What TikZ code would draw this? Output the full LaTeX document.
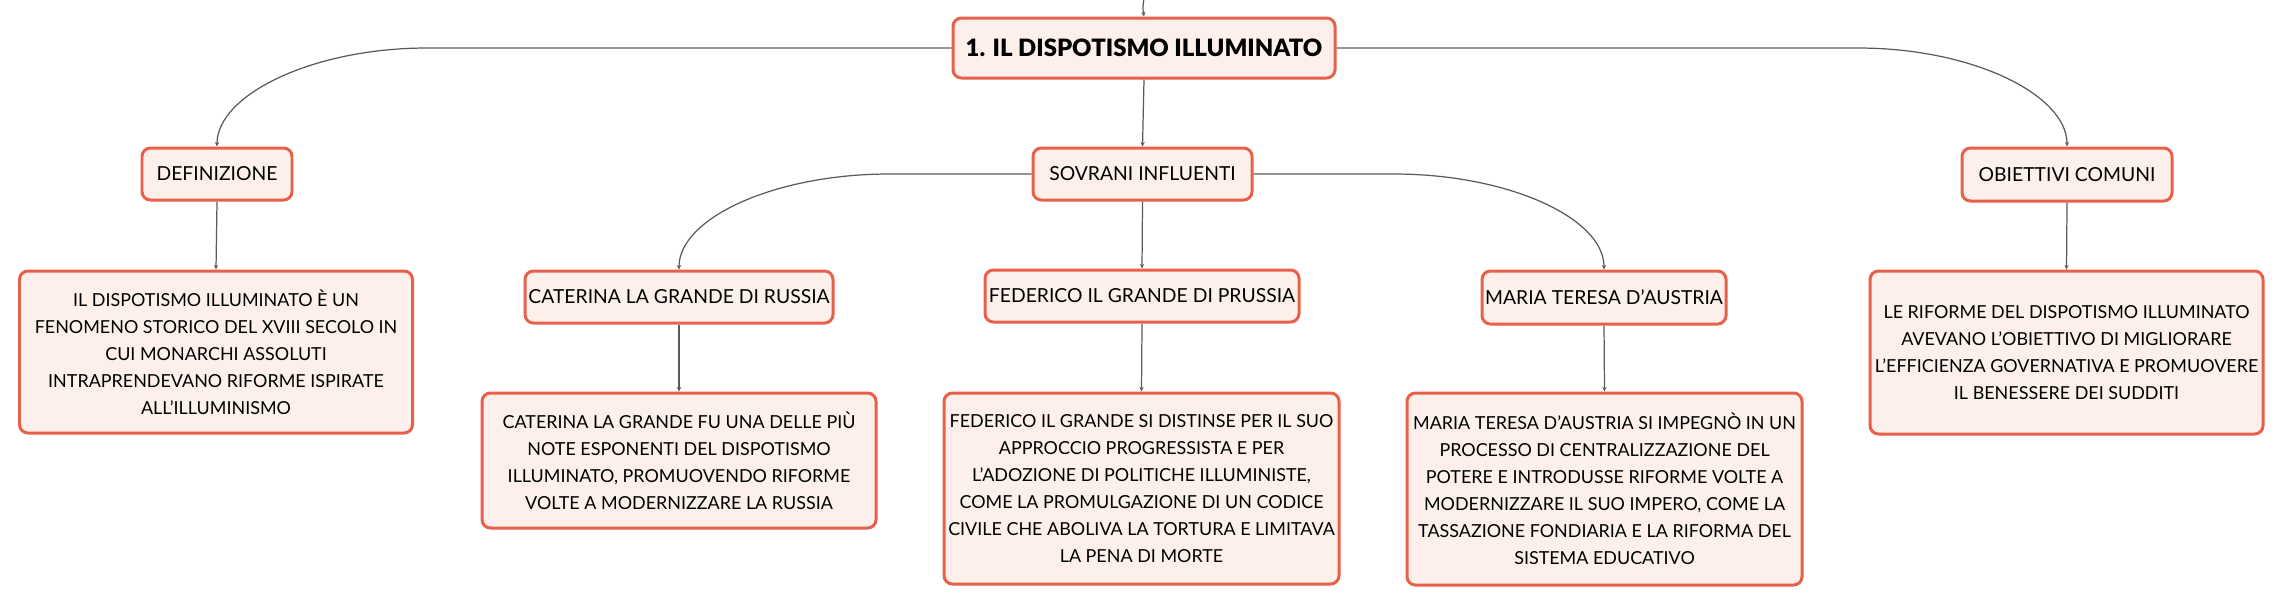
\documentclass[tikz,border=0pt]{standalone}
\usepackage{fontspec}
\setmainfont{Lato}
\newfontfamily\rootfont{Lato Black}
\usetikzlibrary{arrows.meta}

\definecolor{boxline}{HTML}{E9604A}
\definecolor{boxfill}{HTML}{FDF0EB}
\definecolor{linkgray}{HTML}{5A5A5A}

\tikzset{
	box/.style={draw=boxline, fill=boxfill, line width=0.85pt, rounded corners=2.4pt, inner sep=0pt, align=center, text=black},
	rootbox/.style={box, font=\fontsize{6.8pt}{8pt}\selectfont\rootfont},
	topicbox/.style={box, font=\fontsize{5.5pt}{7pt}\selectfont},
	infobox/.style={box, font=\fontsize{5.1pt}{7.7pt}\selectfont},
	link/.style={draw=linkgray, line width=0.35pt, -{Stealth[length=1.3pt,width=1.2pt]}}
}

\begin{document}
\begin{tikzpicture}
		\useasboundingbox (0,0) rectangle (22.84,-6.05);
		% livello principale
		\node[rootbox, minimum width=3.82cm, minimum height=0.60cm] (root) at (11.44,-0.48) {1. IL DISPOTISMO ILLUMINATO};
		\node[topicbox, minimum width=1.50cm, minimum height=0.52cm] (def) at (2.17,-1.74) {DEFINIZIONE};
		\node[topicbox, minimum width=2.19cm, minimum height=0.52cm] (sovrani) at (11.425,-1.74) {SOVRANI INFLUENTI};
		\node[topicbox, minimum width=2.10cm, minimum height=0.53cm] (obiettivi) at (20.67,-1.745) {OBIETTIVI COMUNI};
		% sovrani
		\node[topicbox, minimum width=3.08cm, minimum height=0.52cm] (caterina) at (6.79,-2.97) {CATERINA LA GRANDE DI RUSSIA};
		\node[topicbox, minimum width=3.14cm, minimum height=0.52cm] (federico) at (11.42,-2.96) {FEDERICO IL GRANDE DI PRUSSIA};
		\node[topicbox, minimum width=2.44cm, minimum height=0.53cm] (maria) at (16.04,-2.975) {MARIA TERESA D'AUSTRIA};
		% testi
		\node[infobox, minimum width=3.93cm, minimum height=1.62cm] (deftext) at (2.16,-3.52) {IL DISPOTISMO ILLUMINATO È UN\\FENOMENO STORICO DEL XVIII SECOLO IN\\CUI MONARCHI ASSOLUTI\\INTRAPRENDEVANO RIFORME ISPIRATE\\ALL'ILLUMINISMO};
		\node[infobox, minimum width=3.94cm, minimum height=1.35cm] (catertext) at (6.79,-4.605) {CATERINA LA GRANDE FU UNA DELLE PIÙ\\NOTE ESPONENTI DEL DISPOTISMO\\ILLUMINATO, PROMUOVENDO RIFORME\\VOLTE A MODERNIZZARE LA RUSSIA};
		\node[infobox, minimum width=3.95cm, minimum height=1.91cm] (fedtext) at (11.415,-4.885) {FEDERICO IL GRANDE SI DISTINSE PER IL SUO\\APPROCCIO PROGRESSISTA E PER\\L'ADOZIONE DI POLITICHE ILLUMINISTE,\\COME LA PROMULGAZIONE DI UN CODICE\\CIVILE CHE ABOLIVA LA TORTURA E LIMITAVA\\LA PENA DI MORTE};
		\node[infobox, minimum width=3.95cm, minimum height=1.92cm] (mariatext) at (16.045,-4.89) {MARIA TERESA D'AUSTRIA SI IMPEGNÒ IN UN\\PROCESSO DI CENTRALIZZAZIONE DEL\\POTERE E INTRODUSSE RIFORME VOLTE A\\MODERNIZZARE IL SUO IMPERO, COME LA\\TASSAZIONE FONDIARIA E LA RIFORMA DEL\\SISTEMA EDUCATIVO};
		\node[infobox, minimum width=3.93cm, minimum height=1.63cm] (obtext) at (20.665,-3.525) {LE RIFORME DEL DISPOTISMO ILLUMINATO\\AVEVANO L'OBIETTIVO DI MIGLIORARE\\L'EFFICIENZA GOVERNATIVA E PROMUOVERE\\IL BENESSERE DEI SUDDITI};
		% collegamenti
		\coordinate (parent) at (11.50,0.25);
		\draw[link] (parent) .. controls (11.44,0.05) and (11.42,-0.05) .. (root.north);
		\draw[link] (root.west) -- (4.27,-0.48) .. controls (3.12,-0.48) and (2.17,-0.95) .. (def.north);
		\draw[link] (root.east) -- (18.58,-0.48) .. controls (19.73,-0.48) and (20.67,-0.95) .. (obiettivi.north);
		\draw[link] (root.south) -- (sovrani.north);
		\draw[link] (sovrani.west) -- (8.89,-1.74) .. controls (7.75,-1.74) and (6.79,-2.18) .. (caterina.north);
		\draw[link] (sovrani.east) -- (13.94,-1.74) .. controls (15.08,-1.74) and (16.04,-2.18) .. (maria.north);
		\draw[link] (sovrani.south) -- (federico.north);
		\draw[link] (def.south) -- (deftext.north);
		\draw[link] (obiettivi.south) -- (obtext.north);
		\draw[link] (caterina.south) -- (catertext.north);
		\draw[link] (federico.south) -- (fedtext.north);
		\draw[link] (maria.south) -- (mariatext.north);
	\end{tikzpicture}
\end{document}
